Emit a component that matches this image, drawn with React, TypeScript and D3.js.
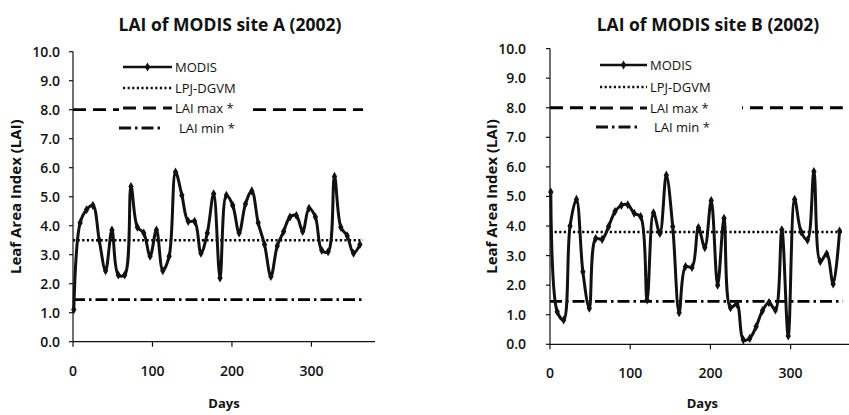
import React from "react";
import * as d3 from "d3";

// MODIS 8-day composites, day of year
const DAYS = [1, 9, 17, 25, 33, 41, 49, 57, 65, 73, 81, 89, 97, 105, 113, 121, 129, 137, 145, 153, 161, 169, 177, 185, 193, 201, 209, 217, 225, 233, 241, 249, 257, 265, 273, 281, 289, 297, 305, 313, 321, 329, 337, 345, 353, 361];

const MODIS_A = [1.1, 4.1, 4.55, 4.7, 3.5, 2.45, 3.85, 2.3, 2.3, 5.35, 3.95, 3.75, 2.95, 3.85, 2.45, 2.95, 5.85, 5.05, 4.15, 4.15, 3.05, 3.75, 5.1, 2.2, 5.05, 4.7, 3.75, 4.75, 5.2, 4.1, 3.35, 2.25, 3.3, 3.8, 4.3, 4.35, 3.8, 4.6, 4.3, 3.15, 3.1, 5.7, 3.95, 3.65, 3.05, 3.35];
const MODIS_B = [5.15, 1.1, 0.82, 4.0, 4.9, 2.45, 1.22, 3.58, 3.55, 3.98, 4.49, 4.7, 4.72, 4.43, 4.32, 1.5, 4.45, 3.75, 5.72, 3.98, 1.07, 2.63, 2.6, 3.95, 3.27, 4.86, 2.0, 4.26, 1.24, 1.36, 0.15, 0.2, 0.6, 1.14, 1.41, 1.16, 3.87, 0.28, 4.9, 3.81, 3.53, 5.84, 2.8, 3.06, 2.04, 3.83];

const LPJ_A = 3.5;
const LPJ_B = 3.8;
const LAI_MAX = 8.0;
const LAI_MIN = 1.45;
const REF_DAYS = [0, 365];

const Y_TICKS = [0, 1, 2, 3, 4, 5, 6, 7, 8, 9, 10];
const X_TICKS = [0, 100, 200, 300];
const LEGEND_LABELS = ["MODIS", "LPJ-DGVM", "LAI max *", "LAI min *"];

const FONT = "'Open Sans', 'DejaVu Sans', sans-serif";
const fmt = d3.format(".1f");

const DASH = {
  lpj: "2.2,2.4",
  max: "13,7",
  min: "12,4,2.5,4",
};

function Panel({ title, modis, lpj, box }) {
  const x = d3.scaleLinear().domain([0, 380]).range([box.left, box.right]);
  const y = d3.scaleLinear().domain([0, 10]).range([box.bottom, box.top]);
  const line = d3
    .line()
    .x((d) => x(d[0]))
    .y((d) => y(d[1]))
    .curve(d3.curveCatmullRom.alpha(0.5));
  const pts = DAYS.map((d, i) => [d, modis[i]]);
  const diamond = d3.symbol(d3.symbolDiamond, 24)();

  const refLine = (v, dash, w) => (
    <line x1={x(REF_DAYS[0])} x2={x(REF_DAYS[1])} y1={y(v)} y2={y(v)}
      stroke="#000" strokeWidth={w} strokeDasharray={dash} />
  );

  const lg = box.legend;
  const rowY = lg.rows;

  return (
    <g fontFamily={FONT}>
      {refLine(LAI_MAX, DASH.max, 2.8)}
      {refLine(LAI_MIN, DASH.min, 2.8)}
      {refLine(lpj, DASH.lpj, 2.4)}

      <path d={line(pts)} fill="none" stroke="#111" strokeWidth={3} />
      {pts.map((p, i) => (
        <path key={i} d={diamond} transform={`translate(${x(p[0])},${y(p[1])})`} fill="#111" />
      ))}

      {/* legend */}
      <rect x={lg.boxX0} y={rowY[0] - 11} width={lg.boxX1 - lg.boxX0} height={rowY[3] - rowY[0] + 21} fill="#fff" />
      <line x1={lg.x0} x2={lg.x1} y1={rowY[0]} y2={rowY[0]} stroke="#111" strokeWidth={2.6} />
      <path d={diamond} transform={`translate(${(lg.x0 + lg.x1) / 2},${rowY[0]})`} fill="#111" />
      <line x1={lg.x0} x2={lg.x1} y1={rowY[1]} y2={rowY[1]} stroke="#111" strokeWidth={2.4} strokeDasharray={DASH.lpj} />
      <line x1={lg.x0} x2={lg.x1} y1={rowY[2]} y2={rowY[2]} stroke="#111" strokeWidth={2.8} strokeDasharray={DASH.max} />
      <line x1={lg.x0 - 4} x2={lg.x1 - 10} y1={rowY[3]} y2={rowY[3]} stroke="#111" strokeWidth={2.8} strokeDasharray={DASH.min} />
      {LEGEND_LABELS.map((t, i) => (
        <text key={t} x={lg.x1 + 3 + (i === 3 ? 4 : 0)} y={rowY[i]} dy="0.35em" fontSize={13} fill="#111">{t}</text>
      ))}

      {/* y axis */}
      <line x1={box.left} x2={box.left} y1={box.top} y2={box.bottom} stroke="#111" strokeWidth={1.2} />
      {Y_TICKS.map((t) => (
        <g key={t}>
          <line x1={box.left - 4} x2={box.left} y1={y(t)} y2={y(t)} stroke="#111" strokeWidth={1.2} />
          <text x={box.yLabelRight} y={y(t)} dy="0.36em" textAnchor="end" fontSize={14} fontWeight={600} fill="#111">{fmt(t)}</text>
        </g>
      ))}
      {/* x axis */}
      <line x1={box.left} x2={box.right} y1={box.bottom} y2={box.bottom} stroke="#111" strokeWidth={1.2} />
      {X_TICKS.map((t) => (
        <g key={t}>
          <line x1={x(t)} x2={x(t)} y1={box.bottom} y2={box.bottom + 5} stroke="#111" strokeWidth={1.2} />
          <text x={x(t)} y={box.bottom + 34} textAnchor="middle" fontSize={14} fontWeight={600} fill="#111">{t}</text>
        </g>
      ))}

      <text x={box.titleX} y={31} textAnchor="middle" fontSize={17.5} fontWeight={700} fill="#111">{title}</text>
      <text x={(box.left + box.right) / 2} y={408} textAnchor="middle" fontSize={13} fontWeight={700} fill="#111">Days</text>
      <text transform={`translate(${box.yTitleX},${(box.top + box.bottom) / 2}) rotate(-90)`} textAnchor="middle" dy="0.35em" fontSize={15} fontWeight={700} fill="#111">Leaf Area Index (LAI)</text>
    </g>
  );
}

const BOX_A = {
  left: 73, right: 375, top: 51.7, bottom: 341.7,
  yLabelRight: 60, yTitleX: 16, titleX: 230,
  legend: { x0: 123, x1: 172, boxX0: 119, boxX1: 252, rows: [67, 88, 108, 128] },
};
const BOX_B = {
  left: 550, right: 854.8, top: 48.6, bottom: 344.3,
  yLabelRight: 526, yTitleX: 492, titleX: 708,
  legend: { x0: 600, x1: 647, boxX0: 596, boxX1: 742, rows: [65, 87, 108, 127] },
};

export default function App() {
  return (
    <svg width={849} height={415} style={{ position: "absolute", left: 0, top: 0, background: "#fff" }}>
      <rect width={849} height={415} fill="#fff" />
      <Panel title="LAI of MODIS site A (2002)" modis={MODIS_A} lpj={LPJ_A} box={BOX_A} />
      <Panel title="LAI of MODIS site B (2002)" modis={MODIS_B} lpj={LPJ_B} box={BOX_B} />
    </svg>
  );
}
